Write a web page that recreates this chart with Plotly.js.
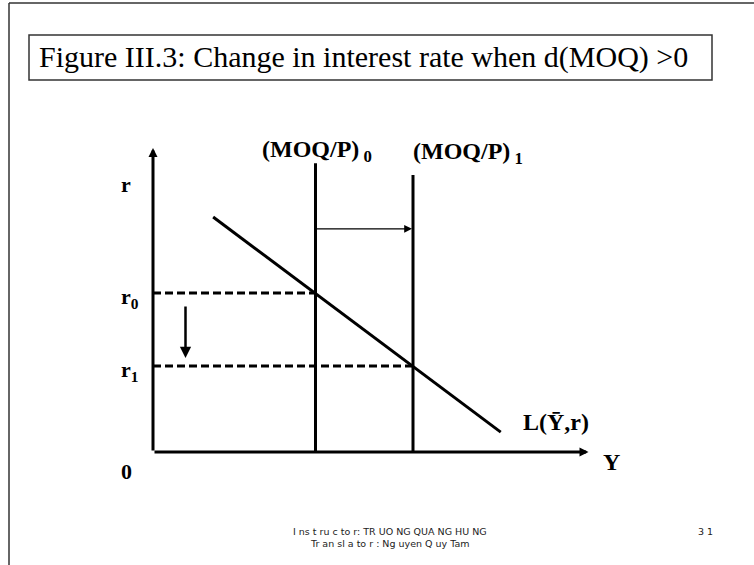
<!DOCTYPE html>
<html>
<head>
<meta charset="utf-8">
<script src="https://cdn.plot.ly/plotly-3.0.1.min.js"></script>
<style>html,body{margin:0;padding:0;background:#fff;}#chart{width:754px;height:565px;}</style>
</head>
<body>
<div id="chart"></div>
<script>
// ---- data (conceptual units) ----
const titleText = 'Figure III.3: Change in interest rate when d(MOQ) >0';
const moqY = [5, 8];                 // money supply positions on Y axis
const moqTop = [10.9, 10.45];        // top of the vertical supply lines
const moqLabels = ['(MOQ/P)<sub> 0</sub>', '(MOQ/P)<sub> 1</sub>'];
const rVals = [6, 3.25];             // equilibrium interest rates r0, r1
const rLabels = ['r<sub>0</sub>', 'r<sub>1</sub>'];
const demandY = [1.85, 10.7];        // money demand line L(Y,r)
const demandR = [8.87, 0.75];
const demandLabel = 'L(\u0232,r)';
const axisTopR = 11.47;
const axisEndY = 13.4;
const shiftR = 8.42;
const dropX = 1.0;
const dropFrom = 5.55, dropTo = 3.55;
const footer1 = 'I ns t ru c to r: TR UO NG QUA NG HU NG';
const footer2 = 'Tr an sl a to r : Ng uyen Q uy Tam';
const pageNo = '3 1';

const serifFam = '"Liberation Serif", "Times New Roman", serif';
const serifB = {family: serifFam, size: 22, color: '#000'};
const serifL = {family: serifFam, size: 24, color: '#000'};
const black = '#000';

const traces = [];
// vertical money supply lines
moqY.forEach((y, i) => {
  traces.push({x: [y, y], y: [0, moqTop[i]], mode: 'lines', line: {color: black, width: 3}, hoverinfo: 'skip'});
});
// dashed r lines
rVals.forEach((r, i) => {
  traces.push({x: [0, moqY[i]], y: [r, r], mode: 'lines', line: {color: black, width: 3, dash: '8px,4px'}, hoverinfo: 'skip'});
});
// demand line
traces.push({x: demandY, y: demandR, mode: 'lines', line: {color: black, width: 3}, hoverinfo: 'skip'});

const ann = [];
// axes with arrows
ann.push({x: 0, y: axisTopR, ax: 0, ay: 0, xref: 'x', yref: 'y', axref: 'x', ayref: 'y', text: '', showarrow: true, arrowhead: 2, arrowsize: 0.6, arrowwidth: 3, arrowcolor: black, standoff: 0});
ann.push({x: axisEndY, y: 0, ax: 0, ay: 0, xref: 'x', yref: 'y', axref: 'x', ayref: 'y', text: '', showarrow: true, arrowhead: 2, arrowsize: 0.6, arrowwidth: 3, arrowcolor: black, standoff: 0});
// shift arrow
ann.push({x: moqY[1], y: shiftR, ax: moqY[0], ay: shiftR, xref: 'x', yref: 'y', axref: 'x', ayref: 'y', text: '', showarrow: true, arrowhead: 2, arrowsize: 1.2, arrowwidth: 1.3, arrowcolor: black, standoff: 1});
// drop arrow
ann.push({x: dropX, y: dropTo, ax: dropX, ay: dropFrom, xref: 'x', yref: 'y', axref: 'x', ayref: 'y', text: '', showarrow: true, arrowhead: 2, arrowsize: 0.9, arrowwidth: 2.5, arrowcolor: black, standoff: 0});
// labels
ann.push({x: -0.83, y: 10.08, xref: 'x', yref: 'y', text: '<b>r</b>', showarrow: false, font: serifB});
ann.push({x: -0.83, y: -0.75, xref: 'x', yref: 'y', text: '<b>0</b>', showarrow: false, font: serifB});
ann.push({x: 14.1, y: -0.38, xref: 'x', yref: 'y', text: '<b>Y</b>', showarrow: false, font: serifL});
rVals.forEach((r, i) => {
  ann.push({x: -0.72, y: r - 0.2, xref: 'x', yref: 'y', text: '<b>' + rLabels[i] + '</b>', showarrow: false, font: serifB});
});
ann.push({x: moqY[0] + 0.05, y: 11.35, xref: 'x', yref: 'y', text: '<b>' + moqLabels[0] + '</b>', showarrow: false, font: serifL, xanchor: 'center'});
ann.push({x: moqY[1] - 0.06, y: 11.3, xref: 'x', yref: 'y', text: '<b>' + moqLabels[1] + '</b>', showarrow: false, font: serifL, xanchor: 'left'});
ann.push({x: 12.4, y: 1.13, xref: 'x', yref: 'y', text: '<b>' + demandLabel + '</b>', showarrow: false, font: serifL});
// title
ann.push({x: 37/754, y: 1 - 57/565, xref: 'paper', yref: 'paper', xanchor: 'left', yanchor: 'middle', text: titleText, showarrow: false,
  font: {family: serifFam, size: 30, color: '#000'}});
// footer
const footFont = {family: '"DejaVu Sans", Verdana, sans-serif', size: 9.5, color: '#222'};
ann.push({x: 390/754, y: 1 - 539/565, xref: 'paper', yref: 'paper', text: footer1, showarrow: false, font: footFont});
ann.push({x: 390/754, y: 1 - 551/565, xref: 'paper', yref: 'paper', text: footer2, showarrow: false, font: footFont});
ann.push({x: 715/754, y: 1 - 539/565, xref: 'paper', yref: 'paper', text: pageNo, showarrow: false, font: footFont});

const shapes = [
  // slide border (top and left)
  {type: 'line', xref: 'paper', yref: 'paper', x0: 9/754, x1: 1, y0: 1 - 3/565, y1: 1 - 3/565, line: {color: '#333', width: 1.5}},
  {type: 'line', xref: 'paper', yref: 'paper', x0: 9/754, x1: 9/754, y0: 1 - 3/565, y1: 0, line: {color: '#333', width: 1.5}},
  // title box
  {type: 'rect', xref: 'paper', yref: 'paper', x0: 29/754, x1: 712/754, y0: 1 - 35/565, y1: 1 - 80/565, line: {color: '#333', width: 1.5}}
];

const layout = {
  width: 754, height: 565,
  margin: {l: 0, r: 0, t: 0, b: 0},
  paper_bgcolor: '#fff', plot_bgcolor: '#fff',
  showlegend: false,
  xaxis: {range: [-153/32.5, 601/32.5], visible: false, fixedrange: true},
  yaxis: {range: [-113/26.5, 452/26.5], visible: false, fixedrange: true},
  annotations: ann,
  shapes: shapes
};
Plotly.newPlot('chart', traces, layout, {displayModeBar: false, staticPlot: true});
</script>
</body>
</html>
